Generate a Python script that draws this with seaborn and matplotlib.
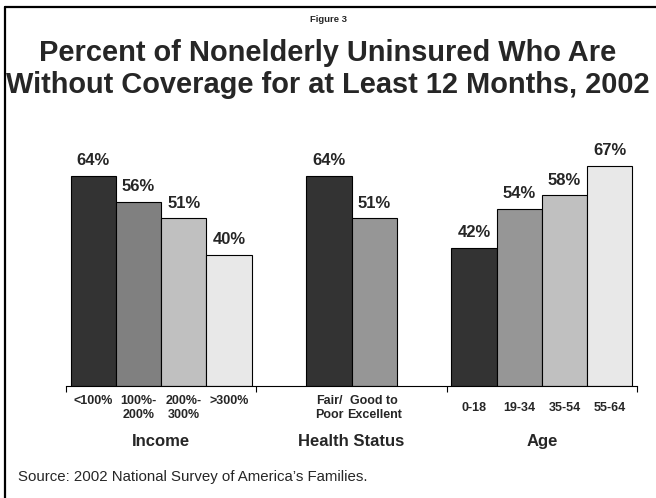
import matplotlib
matplotlib.use("Agg")
import matplotlib.pyplot as plt
from matplotlib.lines import Line2D
import numpy as np
import pandas as pd
import seaborn as sns

# --- data -----------------------------------------------------------------
groups = ["Income", "Health Status", "Age"]
income_labels = ["<100%", "100%-\n200%", "200%-\n300%", ">300%"]
income_values = [64, 56, 51, 40]
health_labels = ["Fair/\nPoor", "Good to\nExcellent"]
health_values = [64, 51]
age_labels = ["0-18", "19-34", "35-54", "55-64"]
age_values = [42, 54, 58, 67]

# fill shades for each group's bars
income_colors = ["#333333", "#808080", "#C0C0C0", "#E8E8E8"]
health_colors = ["#333333", "#969696"]
age_colors = ["#333333", "#969696", "#C0C0C0", "#E8E8E8"]

# --- layout helpers ---------------------------------------------------------
GROUP_W = 4.21          # width of one group slot, in bar widths
series = [
    (income_labels, income_values, income_colors),
    (health_labels, health_values, health_colors),
    (age_labels, age_values, age_colors),
]

rows = []
palette = {}
for gi, (labels, values, colors) in enumerate(series):
    n = len(values)
    center = gi * GROUP_W + GROUP_W / 2
    for k, (lab, val, col) in enumerate(zip(labels, values, colors)):
        pos = center + (k - (n - 1) / 2)
        key = f"{groups[gi]}|{lab}"
        rows.append({"group": groups[gi], "label": lab, "value": val,
                     "pos": pos, "key": key})
        palette[key] = col
df = pd.DataFrame(rows)

# --- figure -----------------------------------------------------------------
sns.set_style("white")
plt.rcParams["font.family"] = ["Liberation Sans", "DejaVu Sans"]

W, H = 656, 498
fig = plt.figure(figsize=(W / 100, H / 100), dpi=100)
fig.patch.set_facecolor("white")

ax_left, ax_right = 66, 637
ax_base, ax_top = 386, 386 - 70 * 3.286
ax = fig.add_axes([ax_left / W, 1 - ax_base / H,
                   (ax_right - ax_left) / W, (ax_base - ax_top) / H])

sns.barplot(data=df, x="pos", y="value", hue="key", palette=palette,
            native_scale=True, dodge=False, width=1.0, legend=False,
            edgecolor="black", linewidth=0.8, saturation=1, ax=ax,
            errorbar=None)

ax.set_xlim(0, 3 * GROUP_W)
ax.set_ylim(0, 70)
ax.set_xlabel("")
ax.set_ylabel("")
ax.set_yticks([])
ax.set_xticks([0, GROUP_W, 2 * GROUP_W, 3 * GROUP_W])
ax.set_xticklabels([])
ax.tick_params(axis="x", direction="out", length=4.5, width=0.8,
               color="black", bottom=True)
for side in ["left", "right", "top"]:
    ax.spines[side].set_visible(False)
ax.spines["bottom"].set_color("black")
ax.spines["bottom"].set_linewidth(0.8)

# value labels above bars
for _, r in df.iterrows():
    ax.annotate(f"{r['value']}%", xy=(r["pos"], r["value"]),
                xytext=(0, 11), textcoords="offset points",
                ha="center", va="center", fontsize=12, fontweight="bold")

# category labels under the axis: income and health labels hang from
# a common top line, age labels sit centred on the label band
for _, r in df.iterrows():
    if r["group"] == "Age":
        dy, va = -15.8, "center"
    else:
        dy, va = -6.3, "top"
    ax.annotate(r["label"], xy=(r["pos"], 0), xycoords=("data", "axes fraction"),
                xytext=(0, dy), textcoords="offset points",
                ha="center", va=va, fontsize=9, fontweight="bold",
                multialignment="center", linespacing=1.25)

# group names
for gi, g in enumerate(groups):
    ax.annotate(g, xy=(gi * GROUP_W + GROUP_W / 2, 0),
                xycoords=("data", "axes fraction"),
                xytext=(0, -40.3), textcoords="offset points",
                ha="center", va="center", fontsize=12, fontweight="bold")

# titles
fig.text(0.5, 1 - 19 / H, "Figure 3", ha="center", va="center",
         fontsize=6.8, fontweight="bold")
fig.text(0.5, 1 - 69 / H,
         "Percent of Nonelderly Uninsured Who Are\n"
         "Without Coverage for at Least 12 Months, 2002",
         ha="center", va="center", fontsize=20.9, fontweight="bold",
         linespacing=1.15)

# source note
fig.text(18 / W, 1 - 477 / H,
         "Source: 2002 National Survey of America\u2019s Families.",
         ha="left", va="center", fontsize=10.8)

# frame lines along top and left edge
fig.add_artist(Line2D([5 / W, 1], [1 - 7.5 / H, 1 - 7.5 / H],
                      transform=fig.transFigure, color="black", lw=1.6))
fig.add_artist(Line2D([5 / W, 5 / W], [0, 1 - 7.5 / H],
                      transform=fig.transFigure, color="black", lw=1.6))

fig.savefig("out.png", dpi=100, facecolor="white")
